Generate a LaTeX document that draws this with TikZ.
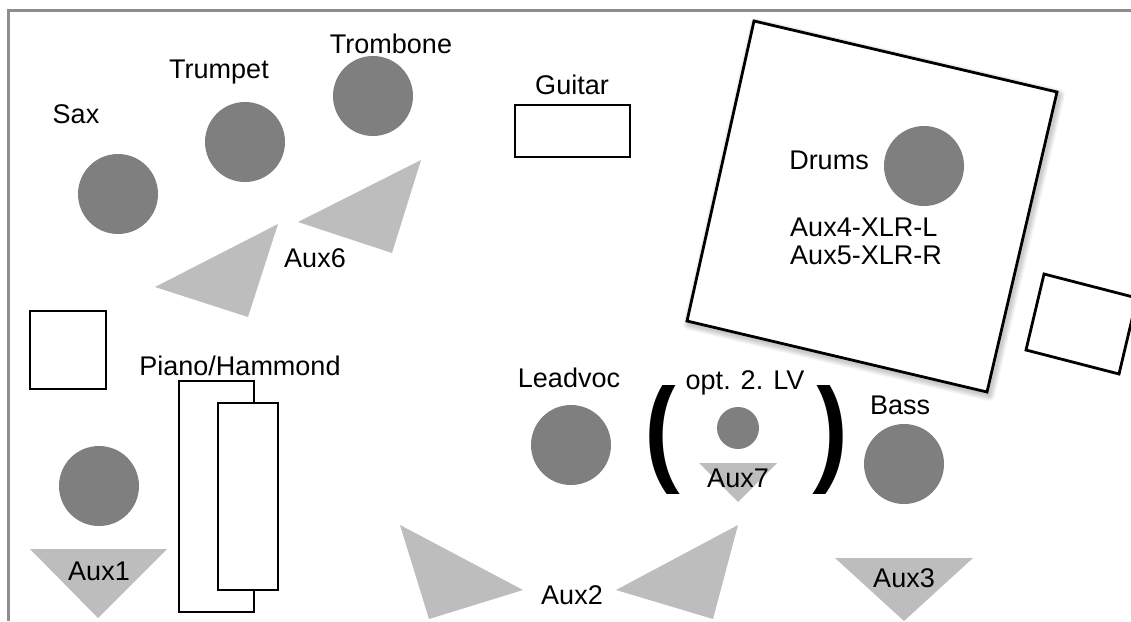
\documentclass[tikz,border=0pt]{standalone}
\usepackage{fontspec}
\setmainfont{Liberation Sans}
\definecolor{frameC}{HTML}{8E8E90}
\definecolor{discC}{HTML}{7F7F7F}
\definecolor{wedgeC}{HTML}{BDBDBD}
\tikzset{
  disc/.style={circle,fill=discC,inner sep=0pt,minimum size=#1},
  disc/.default=80pt,
  wedge/.style={fill=wedgeC,draw=none},
  outl/.style={draw=black,line width=2.8pt,fill=white,line join=miter},
  lab/.style={font=\fontsize{27}{32}\selectfont,text=black,inner sep=0pt},
  brk/.style={font=\fontsize{150}{150}\selectfont,text=black,inner sep=0pt},
  glow/.style={draw=black,draw opacity=.035,line width=#1,line join=round}
}
\begin{document}
\begin{tikzpicture}[x=1pt,y=-1pt]
\useasboundingbox (0,0) rectangle (1131,621);
\fill[white] (0,0) rectangle (1131,621);
\draw[frameC,line width=3pt] (8,621) -- (8,10) -- (1131,10);
% soft shadow of the drum riser
\begin{scope}[shift={(2,3)}]
\foreach \w in {12,10,8,6,4,2}{
  \draw[glow=\w pt] (754,21) -- (1057,92) -- (987,392) -- (687,321) -- cycle;
}
\end{scope}
% stage risers
\draw[outl] (754,21) -- (1057,92) -- (987,392) -- (687,321) -- cycle;
\draw[outl] (1044,274) -- (1137,298) -- (1119,374) -- (1026,350) -- cycle;
\draw[outl] (515,105) rectangle (630,157);
\draw[outl] (30,311) rectangle (106,389);
\draw[outl] (179,381) rectangle (254,612);
\draw[outl] (218,403) rectangle (278,590);
% monitors
\fill[wedge] (421,160) -- (298,222) -- (392,253) -- cycle;
\fill[wedge] (278,224) -- (155,287) -- (248,317) -- cycle;
\fill[wedge] (30,549) -- (167,549) -- (98,618) -- cycle;
\fill[wedge] (400,525) -- (523,590) -- (429,619) -- cycle;
\fill[wedge] (738,525) -- (616,590) -- (713,619) -- cycle;
\fill[wedge] (835,558) -- (973,558) -- (904,621) -- cycle;
% players
\node[disc] (sax) at (118,194) {};
\node[disc] (trumpet) at (245,142) {};
\node[disc] (trombone) at (373,96) {};
\node[disc] (drums) at (924,166) {};
\node[disc] (keys) at (99,486) {};
\node[disc] (lead) at (571,445) {};
\node[disc] (bass) at (904,464) {};
\node[disc=42pt] (lv2) at (738,428) {};
% brackets
\begin{scope}
\clip (640,385) rectangle (860,493);
\node[brk] (open) at (665,437) {(};
\node[brk] (close) at (827,437) {)};
\end{scope}
\fill[wedge] (699,463) -- (777,463) -- (738,502) -- cycle;
% labels
\node[lab] (lsax) at (76,114) {Sax};
\node[lab] (ltrumpet) at (219,72) {Trumpet};
\node[lab] (ltrombone) at (391,44) {Trombone};
\node[lab] (lguitar) at (572,85) {Guitar};
\node[lab] (ldrums) at (829,160) {Drums};
\node[lab] (laux45) at (866,244) {\begin{tabular}{@{}l@{}}Aux4-XLR-L\\[-4pt]Aux5-XLR-R\end{tabular}};
\node[lab] (laux6) at (315,258) {Aux6};
\node[lab] (lpiano) at (240,366) {Piano/Hammond};
\node[lab] (llead) at (569,378) {Leadvoc};
\node[lab,fill=white,inner xsep=4pt,inner ysep=1pt] (llv) at (745,383) {opt. 2. LV};
\node[lab] (lbass) at (900,405) {Bass};
\node[lab] (laux7) at (738,478) {Aux7};
\node[lab] (laux1) at (99,571) {Aux1};
\node[lab] (laux2) at (572,595) {Aux2};
\node[lab] (laux3) at (904,578) {Aux3};
\end{tikzpicture}
\end{document}
